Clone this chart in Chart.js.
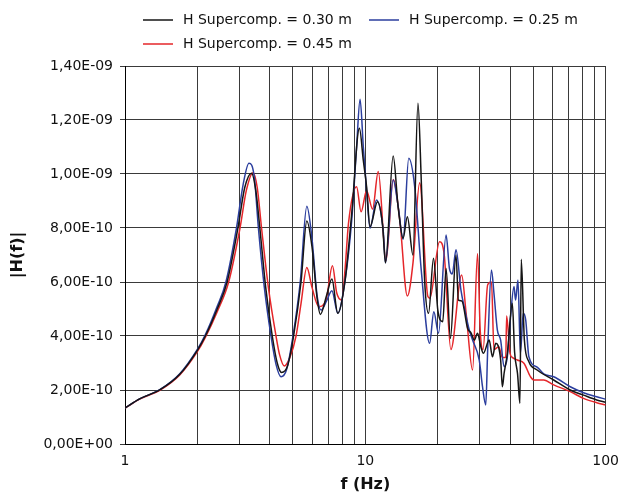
<!DOCTYPE html>
<html>
<head>
<meta charset="utf-8">
<script src="https://cdn.jsdelivr.net/npm/chart.js@4.4.1/dist/chart.umd.min.js"></script>
<style>
  html, body { margin: 0; padding: 0; background: #fff; }
</style>
</head>
<body>
<canvas id="hfChart" width="628" height="497"></canvas>
<script>
// values are |H(f)| in units of 1e-10
const UNIT = 1e-10;

const freq030 = [1, 1.15, 1.4, 1.69, 2, 2.16, 2.42, 2.66, 2.95, 3.15, 3.36, 3.5, 3.64, 3.85, 4.1, 4.3, 4.48, 4.75, 5.03, 5.4,
  5.71, 6.0, 6.3, 6.5, 6.9, 7.26, 7.68, 8.24, 8.78, 9.45, 9.81, 10.12, 10.46, 11.24, 11.8, 12.13, 13.06, 13.69, 14.36, 14.96,
  15.79, 16.56, 17.09, 17.65, 18.33, 19.22, 20.03, 21.0, 21.68, 22.6, 23.84, 24.4, 25.2, 26.65, 27.6, 28.4, 29.3, 30.25, 31.0, 32.76,
  33.8, 34.9, 36.57, 37.17, 37.8, 39.0, 40.89, 41.8, 43.0, 44.0, 44.55, 45.9, 47.93, 51.87, 60.78, 71.23, 80.91, 91.8, 100];
const h030 = [1.33, 1.67, 2.01, 2.58, 3.47, 4.0, 5.0, 6.0, 8.0, 9.5, 10.03, 9.4, 8.0, 5.8, 4.0, 3.0, 2.65, 2.9, 4.0, 6.0,
  8.26, 7.3, 5.4, 4.8, 5.5, 6.11, 4.84, 6.07, 8.54, 11.69, 10.5, 9.53, 8.05, 8.97, 8.1, 6.71, 10.67, 8.79, 7.62, 8.42,
  7.0, 12.62, 9.78, 6.07, 4.84, 6.88, 4.96, 4.53, 6.5, 3.91, 7.0, 5.33, 5.3, 4.28, 4.1, 3.85, 4.1, 3.6, 3.36, 3.85,
  3.23, 3.73, 3.11, 2.12, 2.62, 3.36, 5.21, 3.4, 2.6, 1.51, 6.84, 3.85, 3.05, 2.74, 2.37, 2.0, 1.81, 1.63, 1.55];

const freq025 = [1, 1.15, 1.4, 1.69, 2, 2.16, 2.42, 2.63, 2.91, 3.1, 3.28, 3.45, 3.59, 3.8, 4.05, 4.25, 4.46, 4.7, 5.0, 5.36,
  5.71, 6.0, 6.3, 6.55, 6.9, 7.26, 7.68, 8.24, 8.78, 9.2, 9.51, 9.81, 10.12, 10.46, 11.13, 11.87, 12.13, 13.06, 13.7, 14.36,
  15.16, 16.05, 17.09, 18.51, 19.28, 20.16, 21.68, 22.39, 23.0, 23.84, 25.0, 25.9, 27.08, 27.95, 29.79, 30.74, 31.71, 32.3, 33.48, 34.3,
  35.44, 36.57, 37.78, 38.99, 40.01, 41.56, 42.2, 43.17, 44.2, 45.4, 46.5, 47.93, 51.87, 55.27, 60.78, 71.23, 80.91, 91.8, 100];
const h025 = [1.33, 1.67, 2.02, 2.6, 3.5, 4.05, 5.1, 6.0, 8.0, 9.6, 10.4, 9.9, 8.0, 5.8, 4.0, 2.95, 2.49, 2.75, 4.0, 6.0,
  8.81, 7.6, 5.5, 4.96, 5.3, 5.68, 4.84, 6.07, 8.3, 11.0, 12.77, 11.0, 9.41, 7.99, 9.04, 7.9, 6.71, 9.78, 8.8, 7.58,
  10.58, 9.53, 6.44, 3.73, 4.9, 4.1, 7.74, 6.5, 6.3, 7.19, 5.7, 5.0, 4.22, 3.85, 3.11, 2.12, 1.44, 3.5, 6.44, 5.58,
  4.22, 3.85, 2.86, 3.23, 4.47, 5.83, 5.33, 6.07, 3.36, 4.84, 4.59, 3.23, 2.85, 2.6, 2.49, 2.12, 1.9, 1.75, 1.66];

const freq045 = [1, 1.15, 1.4, 1.69, 2, 2.16, 2.42, 2.7, 3.01, 3.2, 3.41, 3.55, 3.7, 3.95, 4.25, 4.4, 4.6, 4.85, 5.15, 5.4,
  5.71, 6.0, 6.4, 6.85, 7.3, 7.6, 7.98, 8.24, 8.51, 9.2, 9.6, 10.12, 10.72, 11.32, 12.2, 13.06, 13.91, 14.96, 15.79, 16.83,
  18.21, 18.56, 20.36, 21.3, 22.7, 25.17, 26.3, 27.95, 29.31, 30.07, 30.9, 32.3, 33.5, 34.3, 35.9, 37.2, 38.4, 38.73, 40.01, 41.0,
  42.88, 45.71, 48.67, 50.26, 55.27, 60.78, 71.23, 80.91, 91.8, 100];
const h045 = [1.33, 1.66, 2.0, 2.56, 3.42, 3.95, 4.9, 6.0, 8.0, 9.4, 10.05, 9.5, 8.0, 5.8, 4.0, 3.3, 2.89, 3.2, 4.0, 5.2,
  6.54, 5.8, 5.09, 5.3, 6.6, 5.6, 5.33, 6.5, 8.17, 9.53, 8.6, 9.38, 8.7, 10.09, 6.8, 9.8, 8.3, 5.48, 6.71, 9.68,
  5.46, 5.4, 7.49, 7.0, 3.5, 6.26, 4.8, 2.74, 7.06, 4.2, 3.5, 5.9, 6.0, 3.5, 3.6, 3.2, 3.2, 4.74, 3.36, 3.2,
  3.11, 2.99, 2.49, 2.37, 2.37, 2.19, 1.94, 1.69, 1.53, 1.45];

const xTicks = [1, 2, 3, 4, 5, 6, 7, 8, 9, 10, 20, 30, 40, 50, 60, 70, 80, 90, 100];
const xTickLabels = ['1', '10', '100'];
const yTicks = [0, 2e-10, 4e-10, 6e-10, 8e-10, 10e-10, 12e-10, 14e-10];
const yTickLabels = ['0,00E+00', '2,00E-10', '4,00E-10', '6,00E-10', '8,00E-10', '1,00E-09', '1,20E-09', '1,40E-09'];

const FONT = '"DejaVu Sans", sans-serif';
const gridColor = '#3a3a3a';

function toPoints(fs, hs) {
    return fs.map((f, i) => ({ x: f, y: hs[i] * UNIT }));
}

// legend in two columns, like the original
const legendSlots = [{ x: 143, y: 20 }, { x: 369, y: 20 }, { x: 143, y: 44 }];
const legendPlugin = {
    id: 'twoColumnLegend',
    afterDraw(chart) {
        const ctx = chart.ctx;
        ctx.save();
        ctx.font = '14px ' + FONT;
        ctx.textBaseline = 'middle';
        ctx.textAlign = 'left';
        chart.data.datasets.forEach((ds, i) => {
            const s = legendSlots[i];
            ctx.strokeStyle = ds.borderColor;
            ctx.lineWidth = 1.5;
            ctx.beginPath();
            ctx.moveTo(s.x, s.y);
            ctx.lineTo(s.x + 30, s.y);
            ctx.stroke();
            ctx.fillStyle = '#111';
            ctx.fillText(ds.label, s.x + 40, s.y);
        });
        ctx.restore();
    }
};

const ctx = document.getElementById('hfChart');
new Chart(ctx, {
    type: 'line',
    data: {
        datasets: [
            { label: 'H Supercomp. = 0.30 m', borderColor: '#151515', data: toPoints(freq030, h030) },
            { label: 'H Supercomp. = 0.25 m', borderColor: '#2b3e9e', data: toPoints(freq025, h025) },
            { label: 'H Supercomp. = 0.45 m', borderColor: '#e5262a', data: toPoints(freq045, h045) }
        ]
    },
    options: {
        responsive: false,
        animation: false,
        layout: { padding: { top: 66, right: 19, left: 0, bottom: 0 } },
        elements: {
            point: { radius: 0 },
            line: { borderWidth: 1.5, cubicInterpolationMode: 'monotone', fill: false }
        },
        plugins: { legend: { display: false }, tooltip: { enabled: false } },
        scales: {
            x: {
                type: 'logarithmic',
                min: 1,
                max: 100,
                afterBuildTicks: axis => { axis.ticks = xTicks.map(v => ({ value: v })); },
                afterFit: axis => { axis.height = 53; },
                grid: { color: gridColor, drawTicks: false },
                border: { color: '#000' },
                ticks: {
                    autoSkip: false,
                    maxRotation: 0,
                    padding: 9,
                    color: '#111',
                    font: { family: FONT, size: 14 },
                    callback: v => xTickLabels.includes(String(v)) ? String(v) : ''
                },
                title: {
                    display: true, text: 'f (Hz)', color: '#111',
                    font: { family: FONT, size: 16, weight: 'bold' },
                    padding: { top: 0, bottom: 3 }
                }
            },
            y: {
                min: 0,
                max: 14e-10,
                afterBuildTicks: axis => { axis.ticks = yTicks.map(v => ({ value: v })); },
                afterFit: axis => { axis.width = 125; },
                grid: { color: gridColor, tickLength: 5 },
                border: { color: '#000' },
                ticks: {
                    padding: 7,
                    color: '#111',
                    font: { family: FONT, size: 14 },
                    callback: (v, i) => yTickLabels[i]
                },
                title: {
                    display: true, text: '|H(f)|', color: '#111',
                    font: { family: FONT, size: 16, weight: 'bold' },
                    padding: { top: 8, bottom: 0 }
                }
            }
        }
    },
    plugins: [legendPlugin]
});
</script>
</body>
</html>
